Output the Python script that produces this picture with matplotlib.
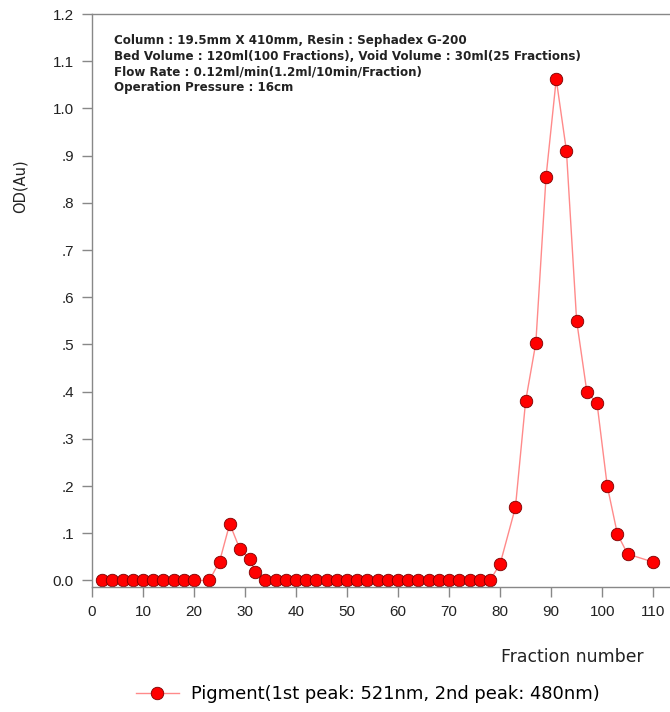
import matplotlib.pyplot as plt

plt.rcParams['font.family'] = ['Liberation Sans', 'DejaVu Sans']

# fraction numbers and optical density
fractions = [2, 4, 6, 8, 10, 12, 14, 16, 18, 20,
             23, 25, 27, 29, 31, 32, 34, 36, 38, 40,
             42, 44, 46, 48, 50, 52, 54, 56, 58, 60,
             62, 64, 66, 68, 70, 72, 74, 76, 78,
             80, 83, 85, 87, 89, 91, 93, 95, 97, 99,
             101, 103, 105, 110]
od = [0, 0, 0, 0, 0, 0, 0, 0, 0, 0,
      0, 0.04, 0.12, 0.066, 0.045, 0.017, 0, 0, 0, 0,
      0, 0, 0, 0, 0, 0, 0, 0, 0, 0,
      0, 0, 0, 0, 0, 0, 0, 0, 0,
      0.035, 0.155, 0.38, 0.503, 0.855, 1.062, 0.91, 0.55, 0.40, 0.375,
      0.20, 0.098, 0.056, 0.039]

y_ticks = [0.0, 0.1, 0.2, 0.3, 0.4, 0.5, 0.6, 0.7, 0.8, 0.9, 1.0, 1.1, 1.2]
y_labels = ['0.0', '.1', '.2', '.3', '.4', '.5', '.6', '.7', '.8', '.9', '1.0', '1.1', '1.2']
x_ticks = [0, 10, 20, 30, 40, 50, 60, 70, 80, 90, 100, 110]

info = ("Column : 19.5mm X 410mm, Resin : Sephadex G-200\n"
        "Bed Volume : 120ml(100 Fractions), Void Volume : 30ml(25 Fractions)\n"
        "Flow Rate : 0.12ml/min(1.2ml/10min/Fraction)\n"
        "Operation Pressure : 16cm")

fig = plt.figure(figsize=(6.7, 7.12), dpi=100)
ax = fig.add_axes([0.1373, 0.1756, 0.8627, 0.8047])

line, = ax.plot(fractions, od, color='#ff8a8a', lw=1.0, marker='o', markersize=9,
                markerfacecolor='#ff0000', markeredgecolor='#7a0000', markeredgewidth=0.6,
                label='Pigment(1st peak: 521nm, 2nd peak: 480nm)')

ax.set_xlim(0, 113.3)
ax.set_ylim(-0.0138, 1.2)
ax.set_yticks(y_ticks)
ax.set_yticklabels(y_labels)
ax.set_xticks(x_ticks)

for s in ['left', 'bottom', 'top']:
    ax.spines[s].set_color('#888888')
    ax.spines[s].set_linewidth(1.0)
ax.spines['right'].set_visible(False)
ax.tick_params(axis='both', direction='out', length=7, width=1, color='#888888',
               labelsize=11, labelcolor='#222222', pad=6)

fig.text(20 / 670, 1 - 186 / 712, 'OD(Au)', rotation=90, fontsize=10.5,
         family='DejaVu Sans', ha='center', va='center', color='#222222')
fig.text(0.960, 1 - 657 / 712, 'Fraction number', fontsize=12.4, family='DejaVu Sans',
         ha='right', va='center', color='#222222')

ax.text(0.0375, 0.965, info, transform=ax.transAxes, fontsize=8.6, fontweight='bold',
        family='DejaVu Sans', va='top', ha='left', linespacing=1.25, color='#222222')

fig.legend(handles=[line], loc='center', bbox_to_anchor=(0.549, 1 - 694 / 712), frameon=False,
           prop={'family': 'DejaVu Sans', 'size': 12.9}, handlelength=2.4, handletextpad=0.7)

fig.savefig('out.png', dpi=100)
